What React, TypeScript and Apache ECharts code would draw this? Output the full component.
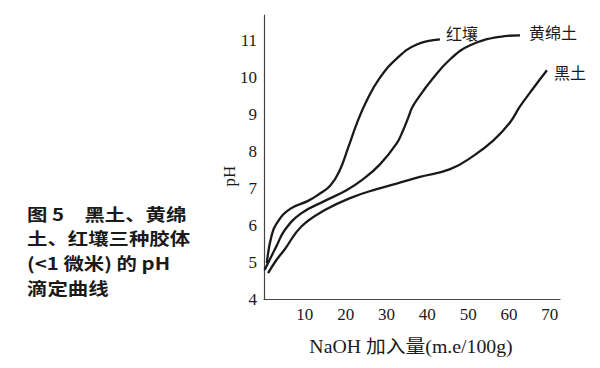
import React, { useEffect, useRef } from "react";
import * as echarts from "echarts";

const seriesNames = ["红壤", "黄绵土", "黑土"];

const hongX = [0.7, 1.8, 3.4, 6.5, 10.8, 13.7, 16.2, 18.4, 20.7, 22.7, 25.2, 28.4, 32.5, 37.4, 43.1];
const hongY = [4.97, 5.69, 6.1, 6.45, 6.66, 6.86, 7.07, 7.45, 8.13, 8.75, 9.39, 10.0, 10.52, 10.9, 11.04];

const huangX = [0.15, 3.0, 5.1, 9.1, 14.9, 20.2, 24.3, 28.4, 32.5, 34.1, 35.4, 36.2, 37.4, 41.0, 45.6, 50.5, 57.8, 62.7];
const huangY = [4.79, 5.42, 5.87, 6.32, 6.66, 6.95, 7.25, 7.65, 8.22, 8.58, 8.94, 9.17, 9.39, 9.93, 10.5, 10.88, 11.11, 11.15];

const heiX = [1.0, 3.0, 5.1, 9.1, 14.9, 21.4, 27.6, 32.5, 38.2, 45.6, 51.3, 56.2, 60.2, 62.7, 66.0, 69.3];
const heiY = [4.7, 5.05, 5.35, 5.96, 6.41, 6.75, 6.98, 7.13, 7.31, 7.52, 7.88, 8.3, 8.78, 9.22, 9.72, 10.2];

const xAxisName = "NaOH 加入量(m.e/100g)";
const yAxisName = "pH";
const captionLines = ["图 5　黑土、黄绵", "土、红壤三种胶体", "(<1 微米) 的 pH", "滴定曲线"];

const zip = (xs: number[], ys: number[]) => xs.map((x, i) => [x, ys[i]]);

const serifFont = "'Liberation Serif', 'DejaVu Serif', 'Noto Sans CJK SC', serif";
const cjkFont = "'Noto Sans CJK SC', sans-serif";
const ink = "#1a1a1a";

export default function App() {
  const ref = useRef<HTMLDivElement>(null);
  useEffect(() => {
    if (!ref.current) return;
    const chart = echarts.init(ref.current, undefined, { renderer: "svg" });
    const mk = (name: string, data: number[][], dist: number, offY: number) => ({
      name,
      type: "line",
      data,
      smooth: 0.45,
      symbol: "none",
      lineStyle: { color: ink, width: 2.3 },
      endLabel: {
        show: true,
        formatter: "{a}",
        distance: dist,
        offset: [0, offY],
        color: ink,
        fontSize: 16,
        fontFamily: cjkFont,
      },
    });
    chart.setOption({
      animation: false,
      backgroundColor: "#ffffff",
      grid: { left: 264, right: 40, top: 15, bottom: 69, containLabel: false },
      xAxis: {
        type: "value",
        min: 0,
        max: 72.5,
        interval: 10,
        axisLine: { show: true, lineStyle: { color: "#444", width: 1.2 } },
        axisTick: { show: false },
        splitLine: { show: false },
        axisLabel: {
          showMinLabel: false,
          showMaxLabel: false,
          color: ink,
          fontSize: 17,
          fontFamily: serifFont,
          margin: 7,
        },
      },
      yAxis: {
        type: "value",
        min: 4,
        max: 11.7,
        interval: 1,
        axisLine: { show: true, lineStyle: { color: "#444", width: 1.2 } },
        axisTick: { show: false },
        splitLine: { show: false },
        axisLabel: {
          showMaxLabel: false,
          color: ink,
          fontSize: 17,
          fontFamily: serifFont,
          margin: 7,
        },
      },
      graphic: [
        {
          type: "text",
          x: 229,
          y: 176,
          rotation: Math.PI / 2,
          style: {
            text: yAxisName,
            fill: ink,
            fontSize: 17,
            fontFamily: serifFont,
            align: "center",
            verticalAlign: "middle",
          },
        },
        {
          type: "text",
          x: 411,
          y: 347,
          scaleX: 1.1,
          style: {
            text: xAxisName,
            fill: ink,
            fontSize: 18,
            fontFamily: serifFont,
            align: "center",
            verticalAlign: "middle",
          },
        },
        ...captionLines.map((t, i) => ({
          type: "text",
          x: 27,
          y: 213 + i * 24.7,
          scaleX: 1.2,
          style: {
            text: t,
            fill: ink,
            fontSize: 17,
            fontWeight: "bold",
            fontFamily: cjkFont,
            align: "left",
            verticalAlign: "middle",
          },
        })),
      ],
      series: [
        mk(seriesNames[0], zip(hongX, hongY), 6, -6),
        mk(seriesNames[1], zip(huangX, huangY), 9, -3),
        mk(seriesNames[2], zip(heiX, heiY), 7, 2),
      ],
    });
    return () => chart.dispose();
  }, []);
  return <div ref={ref} style={{ position: "fixed", left: 0, top: 0, width: 600, height: 368 }} />;
}
